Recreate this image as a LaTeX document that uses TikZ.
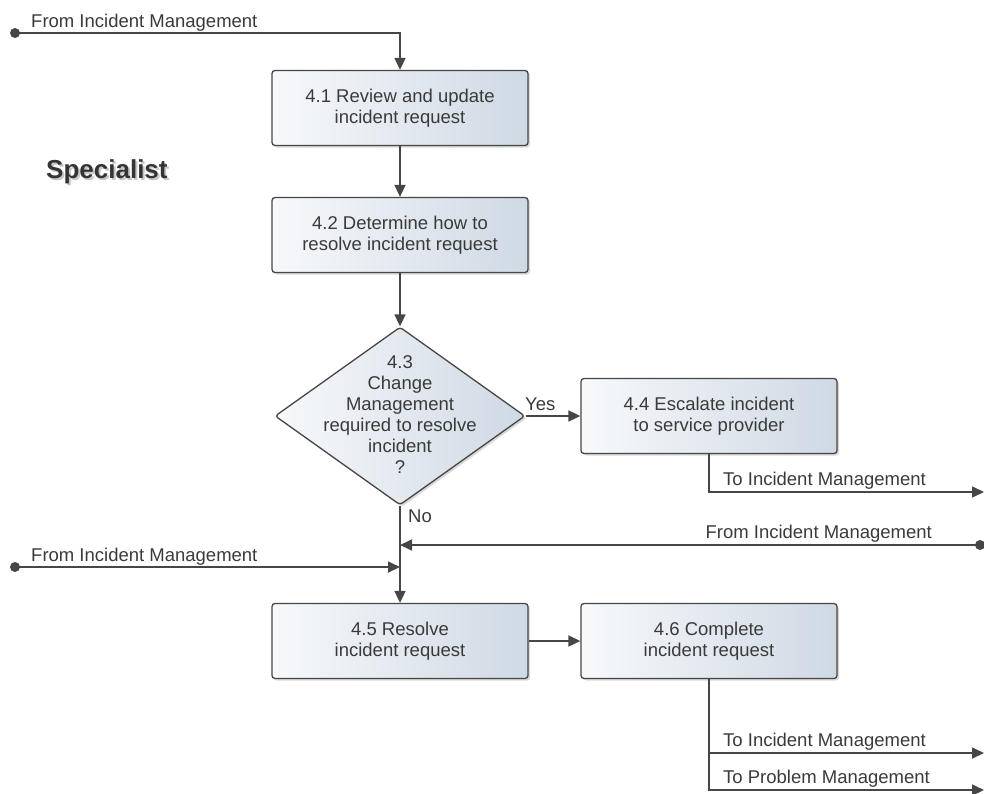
\documentclass[tikz,border=0pt]{standalone}
\usepackage{fontspec}
\setmainfont{Liberation Sans}
\usetikzlibrary{shapes, shapes.geometric, positioning, arrows.meta, shadows}

\definecolor{boxlight}{RGB}{247,249,251}
\definecolor{boxdark}{RGB}{207,217,228}
\definecolor{linegray}{RGB}{70,70,70}
\definecolor{textgray}{RGB}{58,58,58}

\newcommand{\shadowtext}[1]{\rlap{\kern2pt\raisebox{-2pt}{\color{black!22}#1}}#1}

\tikzset{
	txt/.style = {font=\fontsize{18.5}{21}\selectfont, text=textgray, inner sep=0pt},
	task/.style = {txt, draw=linegray, line width=1.3pt, rounded corners=3pt,
		left color=boxlight, right color=boxdark, align=center,
		minimum width=256pt, minimum height=75pt,
		drop shadow={shadow xshift=2pt, shadow yshift=-2pt, opacity=0.3}},
	decision/.style = {diamond, draw=linegray, line width=1.3pt, rounded corners=3pt,
		left color=boxlight, right color=boxdark, inner sep=0pt,
		minimum width=250pt, minimum height=178pt,
		drop shadow={shadow xshift=2pt, shadow yshift=-2pt, opacity=0.3}},
	flow/.style = {draw=linegray, line width=1.7pt, -{Triangle[length=12pt, width=11pt]}},
	dot/.style = {circle, fill=linegray, inner sep=0pt, minimum size=10pt}
}

\begin{document}
\begin{tikzpicture}[x=1pt, y=-1pt]
	\useasboundingbox (0,0) rectangle (984,793);
	
	\node[txt, anchor=base west, text=textgray!90!black, font=\fontsize{26}{30}\selectfont\bfseries] (spec) at (46,178) {\shadowtext{Specialist}};
	
	\node[task] (r41) at (400,108) {4.1 Review and update\\incident request};
	\node[task] (r42) at (400,235) {4.2 Determine how to\\resolve incident request};
	\node[decision] (d43) at (400,416) {};
	\node[txt, align=center] (d43text) at (400,415) {4.3\\Change\\Management\\required to resolve\\incident\\?};
	\node[task] (r44) at (709,416) {4.4 Escalate incident\\to service provider};
	\node[task] (r45) at (400,641) {4.5 Resolve\\incident request};
	\node[task] (r46) at (709,641) {4.6 Complete\\incident request};
	
	\node[dot] (in1) at (15,33) {};
	\node[dot] (in2) at (980,545) {};
	\node[dot] (in3) at (15,567) {};
	\coordinate (out1) at (984,492);
	\coordinate (out2) at (984,753);
	\coordinate (out3) at (984,790);
	
	\node[txt, anchor=base west] (lin1) at (31,27) {From Incident Management};
	\node[txt, anchor=base east] (lin2) at (932,538) {From Incident Management};
	\node[txt, anchor=base west] (lin3) at (31,561) {From Incident Management};
	\node[txt, anchor=base west] (lyes) at (525,410) {Yes};
	\node[txt, anchor=base west] (lno) at (408,522) {No};
	\node[txt, anchor=base west] (lout1) at (723,485) {To Incident Management};
	\node[txt, anchor=base west] (lout2) at (723,746) {To Incident Management};
	\node[txt, anchor=base west] (lout3) at (723,783) {To Problem Management};
	
	\draw[flow] (in1.center) -| (r41.north);
	\draw[flow] (r41) -- (r42);
	\draw[flow] (r42) -- (d43);
	\draw[flow] (d43.east) -- (r44.west);
	\draw[flow] (d43.south) -- (r45.north);
	\draw[flow] (r44.south) |- (out1);
	\draw[flow] (in2.center) -- (in2 -| d43.south);
	\draw[flow] (in3.center) -- (in3 -| d43.south);
	\draw[flow] (r45) -- (r46);
	\draw[flow] (r46.south) |- (out3);
	\draw[flow] (out2 -| r46.south) -- (out2);
\end{tikzpicture}
\end{document}
